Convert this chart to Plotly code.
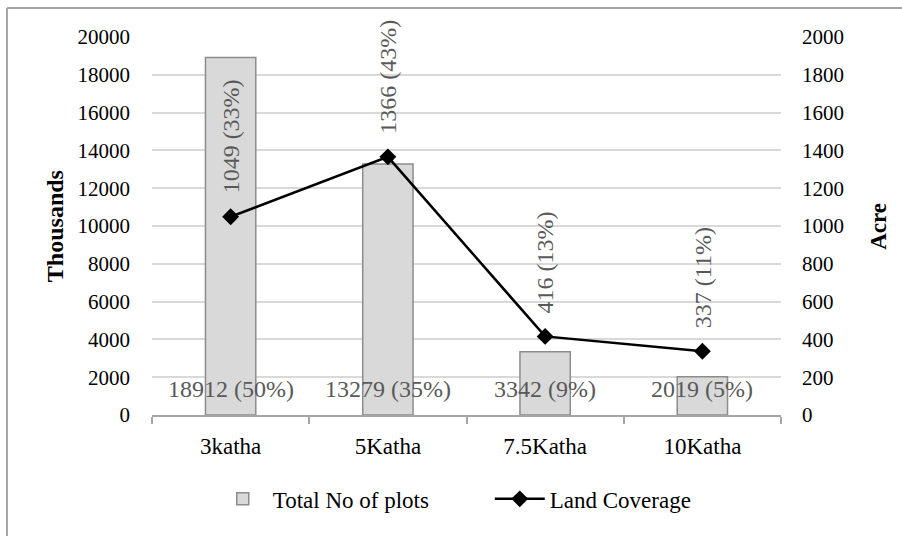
import plotly.graph_objects as go

# Plot sizes by category
categories = ["3katha", "5Katha", "7.5Katha", "10Katha"]
total_plots = [18912, 13279, 3342, 2019]      # thousands (left axis)
land_coverage = [1049, 1366, 416, 337]        # acre (right axis)

plots_total = sum(total_plots)
land_total = sum(land_coverage)
plot_labels = [f"{v} ({round(100 * v / plots_total)}%)" for v in total_plots]
land_labels = [f"{v} ({round(100 * v / land_total)}%)" for v in land_coverage]

FONT = "Liberation Serif"
LABEL_GREY = "#595959"
AXIS_GREY = "#a6a6a6"
GRID_GREY = "#d9d9d9"

fig = go.Figure()

fig.add_trace(go.Bar(
    x=categories, y=total_plots, name="Total No of plots",
    marker=dict(color="#d9d9d9", line=dict(color="#8c8c8c", width=1.5)),
    yaxis="y", hoverinfo="skip",
))

fig.add_trace(go.Scatter(
    x=categories, y=land_coverage, name="Land Coverage",
    mode="lines+markers",
    line=dict(color="black", width=2.5),
    marker=dict(symbol="diamond", size=13, color="black"),
    yaxis="y2",
))

annotations = []
# bar value labels sitting near the base of each bar
for cat, txt in zip(categories, plot_labels):
    annotations.append(dict(
        x=cat, y=0, xref="x", yref="y", text=txt, showarrow=False,
        yanchor="middle", yshift=26,
        font=dict(family=FONT, size=24, color=LABEL_GREY),
    ))
# rotated labels above each line point
for cat, val, txt in zip(categories, land_coverage, land_labels):
    annotations.append(dict(
        x=cat, y=val, xref="x", yref="y2", text=txt, showarrow=False,
        textangle=-90, yanchor="bottom", yshift=21,
        font=dict(family=FONT, size=24, color=LABEL_GREY),
    ))
# axis titles
annotations.append(dict(
    x=-0.154, y=0.5, xref="paper", yref="paper", text="<b>Thousands</b>",
    showarrow=False, textangle=-90, xanchor="center", yanchor="middle",
    font=dict(family=FONT, size=24, color="black"),
))
annotations.append(dict(
    x=1.154, y=0.5, xref="paper", yref="paper", text="<b>Acre</b>",
    showarrow=False, textangle=-90, xanchor="center", yanchor="middle",
    font=dict(family=FONT, size=23, color="black"),
))

# chart frame (left and top edges)
shapes = [
    dict(type="line", xref="paper", yref="paper", x0=-0.2305, x1=2.0,
         y0=1.0767, y1=1.0767, line=dict(color=AXIS_GREY, width=2)),
    dict(type="line", xref="paper", yref="paper", x0=-0.2305, x1=-0.2305,
         y0=-1.0, y1=1.0767, line=dict(color=AXIS_GREY, width=2)),
]

fig.update_layout(
    width=902, height=536,
    margin=dict(l=152, r=121, t=37, b=121),
    paper_bgcolor="white", plot_bgcolor="white",
    font=dict(family=FONT, size=20, color="black"),
    bargap=0.68,
    showlegend=True,
    legend=dict(
        orientation="h", x=0.537, xanchor="center", y=-0.222, yanchor="middle",
        font=dict(family=FONT, size=23, color="black"),
        itemwidth=50, entrywidth=212, traceorder="normal",
    ),
    xaxis=dict(
        showline=True, linecolor=AXIS_GREY, linewidth=1.5,
        ticks="outside", tickson="boundaries", ticklen=7, tickcolor=AXIS_GREY,
        tickwidth=1.5, showgrid=False,
        tickfont=dict(family=FONT, size=23, color="black"),
        ticklabelstandoff=10,
    ),
    yaxis=dict(
        range=[0, 20000], dtick=2000, tickformat="d",
        showgrid=True, gridcolor=GRID_GREY,
        gridwidth=1.5, zeroline=False, showline=False, ticks="",
        tickfont=dict(family=FONT, size=21, color="black"),
        ticklabelstandoff=21,
    ),
    yaxis2=dict(
        range=[0, 2000], dtick=200, tickformat="d", overlaying="y", side="right",
        showgrid=False, zeroline=False, showline=False, ticks="",
        tickfont=dict(family=FONT, size=21, color="black"),
        ticklabelstandoff=20,
    ),
    annotations=annotations,
    shapes=shapes,
)

fig.write_html("out.html")
